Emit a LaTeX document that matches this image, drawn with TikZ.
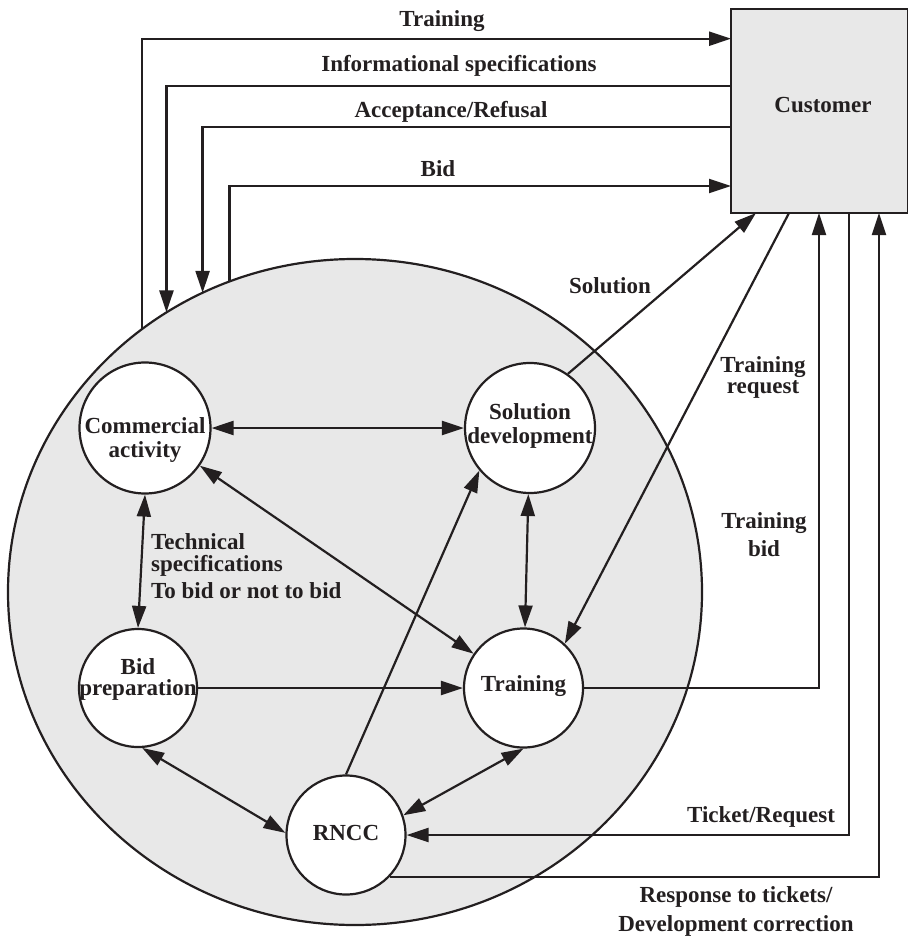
\documentclass[tikz,border=0pt]{standalone}
\usepackage{fontspec}
\setmainfont{Liberation Serif}
\usetikzlibrary{arrows.meta,calc,shapes.geometric}
\definecolor{ink}{RGB}{35,31,32}
\definecolor{shade}{RGB}{232,232,232}
\begin{document}
\begin{tikzpicture}[x=1pt,y=-1pt,
  line/.style={draw=ink,line width=2.2pt},
  tip/.tip={Triangle[length=22pt,width=14pt]},
  arr/.style={line,-tip},
  biarr/.style={line,tip-tip},
  proc/.style={circle,draw=ink,line width=2.2pt,fill=white,inner sep=0pt},
  lbl/.style={text=ink,inner sep=0pt,align=center,font=\fontsize{23}{24}\selectfont\bfseries},
]
\useasboundingbox (0,0) rectangle (907,936);

% enterprise boundary and customer
\node[ellipse,draw=ink,fill=shade,line width=2.2pt,minimum width=694pt,minimum height=666pt,inner sep=0pt,outer sep=0pt] (big) at (355,592) {};
\node[rectangle,draw=ink,fill=shade,line width=2.2pt,anchor=north west,minimum width=177pt,minimum height=204pt,inner sep=0pt,outer sep=0pt] (cust) at (731,9) {};
\node[lbl] (custtxt) at (823,105) {Customer};

% processes
\node[proc,minimum size=131pt] (ca) at (145,428) {};
\node[proc,minimum size=130pt] (sol) at (530,428) {};
\node[proc,minimum size=118pt] (bid) at (138,688) {};
\node[proc,minimum size=119pt] (train) at (523.5,688) {};
\node[proc,minimum size=119pt] (rncc) at (346,835) {};

\node[lbl] (catxt) at (145,440) {Commercial\\activity};
\node[lbl] (soltxt) at (530,426) {Solution\\development};
\node[lbl,font=\fontsize{23}{21}\selectfont\bfseries] (bidtxt) at (138,679) {Bid\\preparation};
\node[lbl] (traintxt) at (523.5,686) {Training};
\node[lbl] (rncctxt) at (346,832.5) {RNCC};

% exchanges with the customer (top)
\draw[arr] (big.129.6) |- ($(cust.north west)+(0,29.7)$);
\draw[arr] ($(cust.north west)+(0,76.7)$) -| (big.124.3);
\draw[arr] ($(cust.north west)+(0,117.7)$) -| (big.117.9);
\draw[arr] (big.112.3) |- ($(cust.north west)+(0,177)$);

\node[lbl] (l1) at (442,21) {Training};
\node[lbl] (l2) at (459,66) {Informational specifications};
\node[lbl] (l3) at (451,111.7) {Acceptance/Refusal};
\node[lbl] (l4) at (438,169) {Bid};

% exchanges with the customer (bottom)
\draw[arr] (sol.55) -- ($(cust.south west)+(25,0)$);
\draw[arr] ($(cust.south west)+(58,0)$) -- (train.47);
\draw[arr] (train.east) -| ($(cust.south west)+(88,0)$);
\draw[arr] ($(cust.south west)+(118,0)$) |- (rncc.east);
\draw[arr] (rncc.-44) -| ($(cust.south west)+(148,0)$);

\node[lbl] (l5) at (610,286) {Solution};
\node[lbl,font=\fontsize{23}{21}\selectfont\bfseries] (l6) at (763,377.5) {Training\\request};
\node[lbl,font=\fontsize{23}{28}\selectfont\bfseries] (l7) at (764,535) {Training\\bid};
\node[lbl] (l8) at (761,817) {Ticket/Request};
\node[lbl,font=\fontsize{23}{29}\selectfont\bfseries] (l9) at (736,911) {Response to tickets/\\Development correction};

% internal flows
\draw[biarr] (ca.east) -- (sol.west);
\draw[biarr] (ca.south) -- (bid.north);
\draw[biarr] (ca) -- (train);
\draw[biarr] (sol) -- (train);
\draw[arr] (bid) -- (train);
\draw[biarr] (bid.-86) -- (rncc.178);
\draw[arr] (rncc.north) -- (sol.220);
\draw[biarr] (rncc.19) -- (train.south);

\node[lbl,align=left,anchor=north west,font=\fontsize{23}{22}\selectfont\bfseries] (l10) at (151,533) {Technical\\specifications\\[5pt]To bid or not to bid};
\end{tikzpicture}
\end{document}
